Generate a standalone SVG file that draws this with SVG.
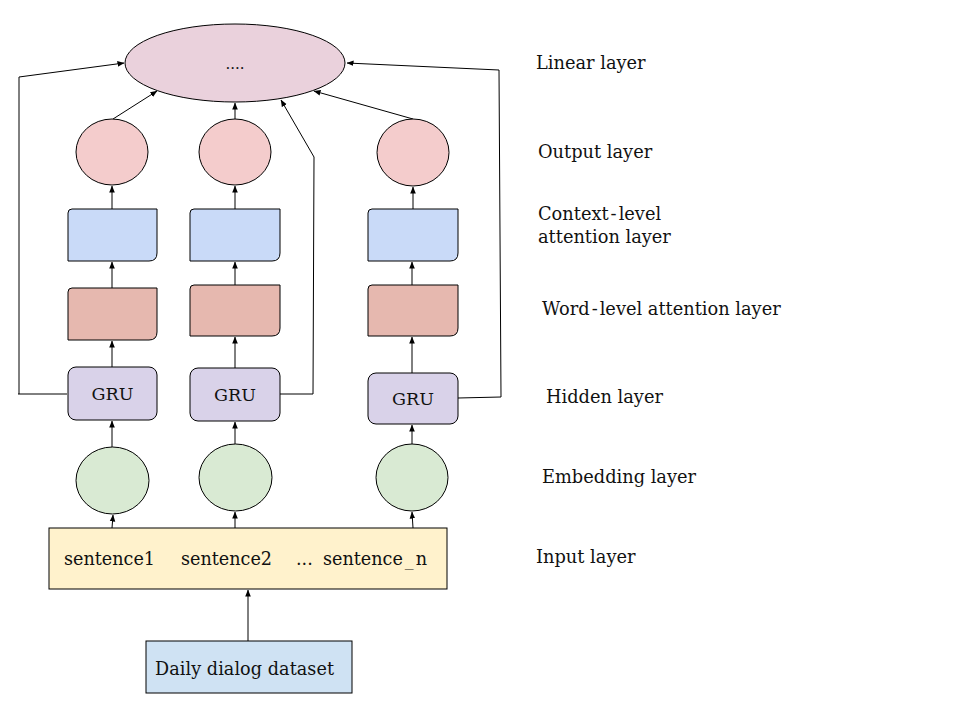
<svg xmlns="http://www.w3.org/2000/svg" width="960" height="720" viewBox="0 0 960 720">
  <style>
    .shape { stroke: #000; stroke-width: 1; }
    .linear { fill: #ead1dc; }
    .out { fill: #f4cccc; }
    .ctx { fill: #c9daf8; }
    .word { fill: #e6b8af; }
    .gru { fill: #d9d2e9; }
    .emb { fill: #d9ead3; }
    .input { fill: #fff2cc; }
    .data { fill: #cfe2f3; }
    .edge { fill: none; stroke: #000; stroke-width: 1; marker-end: url(#arrow); }
    text { font-family: "DejaVu Serif", "Liberation Serif", serif; fill: #111; }
    .lbl { font-size: 17.8px; }
    .node-text { font-size: 17.6px; }
    .gru-text { font-size: 17.5px; text-anchor: middle; }
  </style>
  <defs>
    <marker id="arrow" viewBox="0 0 8 8" refX="7.5" refY="4" markerWidth="7" markerHeight="7" markerUnits="userSpaceOnUse" orient="auto">
      <path d="M0,0.8 L8,4 L0,7.2 z" fill="#000"/>
    </marker>
  </defs>

  <rect width="960" height="720" fill="#fff"/>

  <!-- connectors -->
  <g id="connectors">
    <!-- dataset to input -->
    <path class="edge" d="M248,641 V590"/>
    <!-- input to embeddings -->
    <path class="edge" d="M112,528 L113,515"/>
    <path class="edge" d="M235,528 V512"/>
    <path class="edge" d="M413,528 L412,512"/>
    <!-- embeddings to GRU -->
    <path class="edge" d="M112,447 V421"/>
    <path class="edge" d="M235,444 V422"/>
    <path class="edge" d="M412,444 V425"/>
    <!-- GRU to word-level -->
    <path class="edge" d="M112,367 V341"/>
    <path class="edge" d="M235,368 V337"/>
    <path class="edge" d="M412,373 V337"/>
    <!-- word-level to context-level -->
    <path class="edge" d="M112,288 V262"/>
    <path class="edge" d="M235,285 V262"/>
    <path class="edge" d="M412,285 V262"/>
    <!-- context-level to output -->
    <path class="edge" d="M112,209 V186"/>
    <path class="edge" d="M235,209 V186"/>
    <path class="edge" d="M413,209 V187"/>
    <!-- output to linear -->
    <path class="edge" d="M113,119 L157,91"/>
    <path class="edge" d="M235,119 V103"/>
    <path class="edge" d="M413,119 L314,91"/>
    <!-- skip connections from hidden layer to linear -->
    <path class="edge" d="M67,394 H18 M19,394 V77 L124,63"/>
    <path class="edge" d="M280,394 H313 L314,157 L281,100"/>
    <path class="edge" d="M458,398 L501,397 L499,70 L347,63"/>
  </g>

  <!-- linear layer -->
  <g id="linear">
    <ellipse class="shape linear" cx="235" cy="63" rx="110" ry="39"/>
    <text x="235" y="69" font-size="15" text-anchor="middle">....</text>
  </g>

  <!-- output layer -->
  <g id="out1"><ellipse class="shape out" cx="112" cy="152" rx="36" ry="33"/></g>
  <g id="out2"><ellipse class="shape out" cx="235" cy="152" rx="36" ry="33"/></g>
  <g id="out3"><ellipse class="shape out" cx="413" cy="152.5" rx="36" ry="33.5"/></g>

  <!-- context-level attention -->
  <g id="ctx1"><path class="shape ctx" d="M72,209 H157 V253 Q157,261 149,261 H68 V213 Q68,209 72,209 z"/></g>
  <g id="ctx2"><path class="shape ctx" d="M194,209 H280 V253 Q280,261 272,261 H190 V213 Q190,209 194,209 z"/></g>
  <g id="ctx3"><path class="shape ctx" d="M372,209 H458 V253 Q458,261 450,261 H368 V213 Q368,209 372,209 z"/></g>

  <!-- word-level attention -->
  <g id="word1"><path class="shape word" d="M72,288 H157 V332 Q157,340 149,340 H68 V292 Q68,288 72,288 z"/></g>
  <g id="word2"><path class="shape word" d="M194,285 H280 V328 Q280,336 272,336 H190 V289 Q190,285 194,285 z"/></g>
  <g id="word3"><path class="shape word" d="M372,285 H458 V328 Q458,336 450,336 H368 V289 Q368,285 372,285 z"/></g>

  <!-- hidden layer -->
  <g id="gru1">
    <rect class="shape gru" x="68" y="367" width="89" height="53" rx="8"/>
    <text class="gru-text" x="112.5" y="400">GRU</text>
  </g>
  <g id="gru2">
    <rect class="shape gru" x="190" y="368" width="90" height="53" rx="8"/>
    <text class="gru-text" x="235" y="401">GRU</text>
  </g>
  <g id="gru3">
    <rect class="shape gru" x="368" y="373" width="90" height="51" rx="8"/>
    <text class="gru-text" x="413" y="405">GRU</text>
  </g>

  <!-- embedding layer -->
  <g id="emb1"><ellipse class="shape emb" cx="112.5" cy="480.5" rx="36.5" ry="33.5"/></g>
  <g id="emb2"><ellipse class="shape emb" cx="235.5" cy="477.5" rx="36.5" ry="33.5"/></g>
  <g id="emb3"><ellipse class="shape emb" cx="412" cy="477.5" rx="36" ry="33.5"/></g>

  <!-- input layer -->
  <g id="input">
    <rect class="shape input" x="49" y="528" width="398" height="61"/>
    <text class="node-text" x="64" y="565">sentence1</text>
    <text class="node-text" x="181" y="565">sentence2</text>
    <text class="node-text" x="296" y="565">...</text>
    <text class="node-text" x="323" y="565">sentence<tspan dx="2">_</tspan><tspan dx="2">n</tspan></text>
  </g>

  <!-- dataset -->
  <g id="dataset">
    <rect class="shape data" x="146" y="641" width="206" height="52"/>
    <text class="node-text" x="155" y="675" textLength="179" lengthAdjust="spacing">Daily dialog dataset</text>
  </g>

  <!-- layer labels -->
  <g id="labels">
    <text class="lbl" x="536" y="69">Linear layer</text>
    <text class="lbl" x="538" y="158">Output layer</text>
    <text class="lbl" x="538" y="220">Context<tspan dx="2">-</tspan><tspan dx="2">level</tspan></text>
    <text class="lbl" x="538" y="243">attention layer</text>
    <text class="lbl" x="542" y="315">Word<tspan dx="2">-</tspan><tspan dx="2">level attention layer</tspan></text>
    <text class="lbl" x="546" y="403">Hidden layer</text>
    <text class="lbl" x="542" y="483">Embedding layer</text>
    <text class="lbl" x="536" y="563">Input layer</text>
  </g>
</svg>
